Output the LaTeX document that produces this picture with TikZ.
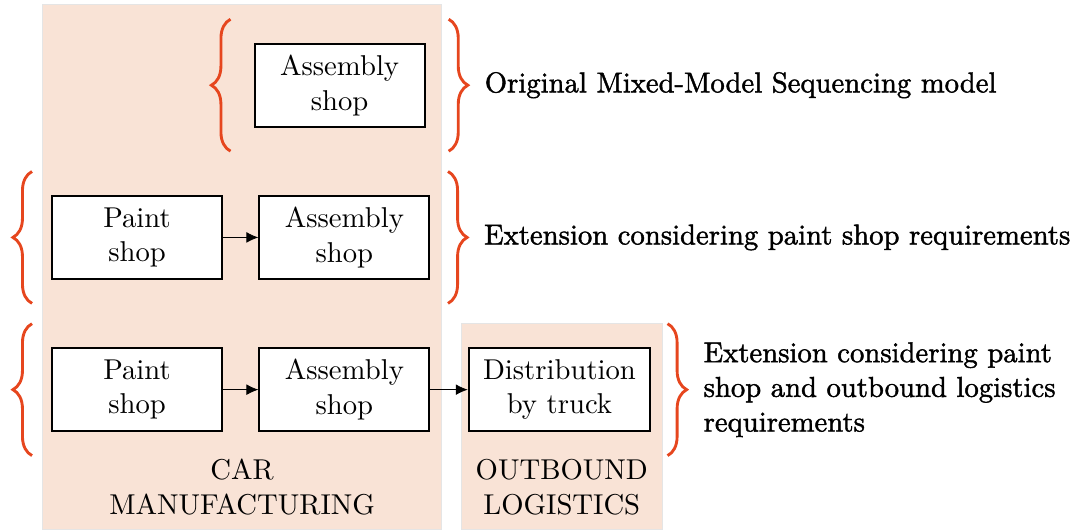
\documentclass[tikz,border=0pt]{standalone}
\usepackage{fontspec}
\setmainfont{lmroman10-regular}[Extension=.otf]
\newfontfamily\heavyfont{lmroman10-regular}[Extension=.otf, FakeBold=1.5]
\usepackage{xcolor}
\usetikzlibrary{arrows.meta, positioning, calc, backgrounds, decorations.pathreplacing}

\definecolor{areafill}{HTML}{F9E3D6}
\definecolor{bracecol}{HTML}{E6461E}

\begin{document}
\begin{tikzpicture}[
        font=\fontsize{12pt}{14.5pt}\selectfont,
        node distance=0.99cm and 0.52cm,
        shop/.style={
            rectangle,
            draw,
            thick,
            fill=white,
            align=center,
            minimum width=2.5cm,
            minimum height=1.22cm,
            inner xsep=6pt
        },
        area/.style={
            fill=areafill,
            draw=black!10,
            line width=0.4pt
        },
        arealabel/.style={
            align=center
        },
        flow/.style={
            -{Latex[length=5pt, width=4.5pt]},
            line width=0.35pt
        },
        scopebrace/.style={
            decorate,
            decoration={brace, amplitude=8pt},
            draw=bracecol,
            line width=1.2pt
        },
        remark/.style={
            align=left,
            inner sep=0pt,
            font=\fontsize{12pt}{14.5pt}\heavyfont
        }
    ]

    \useasboundingbox (0,0) rectangle (15.85,7.78);

    % Bereiche
    \path[area] (0.63,0) rectangle (6.49,7.71);
    \path[area] (6.78,0) rectangle (9.74,3.03);

    % Knoten
    \node[shop] (paint3) at (2.015,2.051) {Paint\\shop};
    \node[shop, right=of paint3] (asm3) {Assembly\\shop};
    \node[shop, right=0.55cm of asm3] (dist) {Distribution\\by truck};

    \node[shop, above=of paint3] (paint2) {Paint\\shop};
    \node[shop, right=of paint2] (asm2) {Assembly\\shop};

    \node[shop, above=of asm2, xshift=-0.07cm] (asm1) {Assembly\\shop};

    \node[arealabel] (carlbl) at (3.56,0.62) {CAR\\MANUFACTURING};
    \node[arealabel] (outlbl) at (8.26,0.62) {OUTBOUND\\LOGISTICS};

    % Pfeile
    \draw[flow] (paint2) -- (asm2);
    \draw[flow] (paint3) -- (asm3);
    \draw[flow] (asm3) -- (dist);

    % Klammern
    \draw[scopebrace] ($(asm1.west)+(-0.34,-0.97)$) -- ($(asm1.west)+(-0.34,0.97)$);
    \draw[scopebrace] ($(paint2.west)+(-0.28,-0.97)$) -- ($(paint2.west)+(-0.28,0.97)$);
    \draw[scopebrace] ($(paint3.west)+(-0.28,-0.97)$) -- ($(paint3.west)+(-0.28,0.97)$);

    \draw[scopebrace] ($(asm1.east)+(0.34,0.97)$) -- ($(asm1.east)+(0.34,-0.97)$)
        node[remark, midway, right=0.51cm] (note1) {Original Mixed-Model Sequencing model};
    \draw[scopebrace] ($(asm2.east)+(0.26,0.97)$) -- ($(asm2.east)+(0.26,-0.97)$)
        node[remark, midway, right=0.51cm] (note2) {Extension considering paint shop requirements};
    \draw[scopebrace] ($(dist.east)+(0.24,0.97)$) -- ($(dist.east)+(0.24,-0.97)$)
        node[remark, midway, right=0.51cm] (note3) {Extension considering paint\\shop and outbound logistics\\requirements};

    \end{tikzpicture}
\end{document}
